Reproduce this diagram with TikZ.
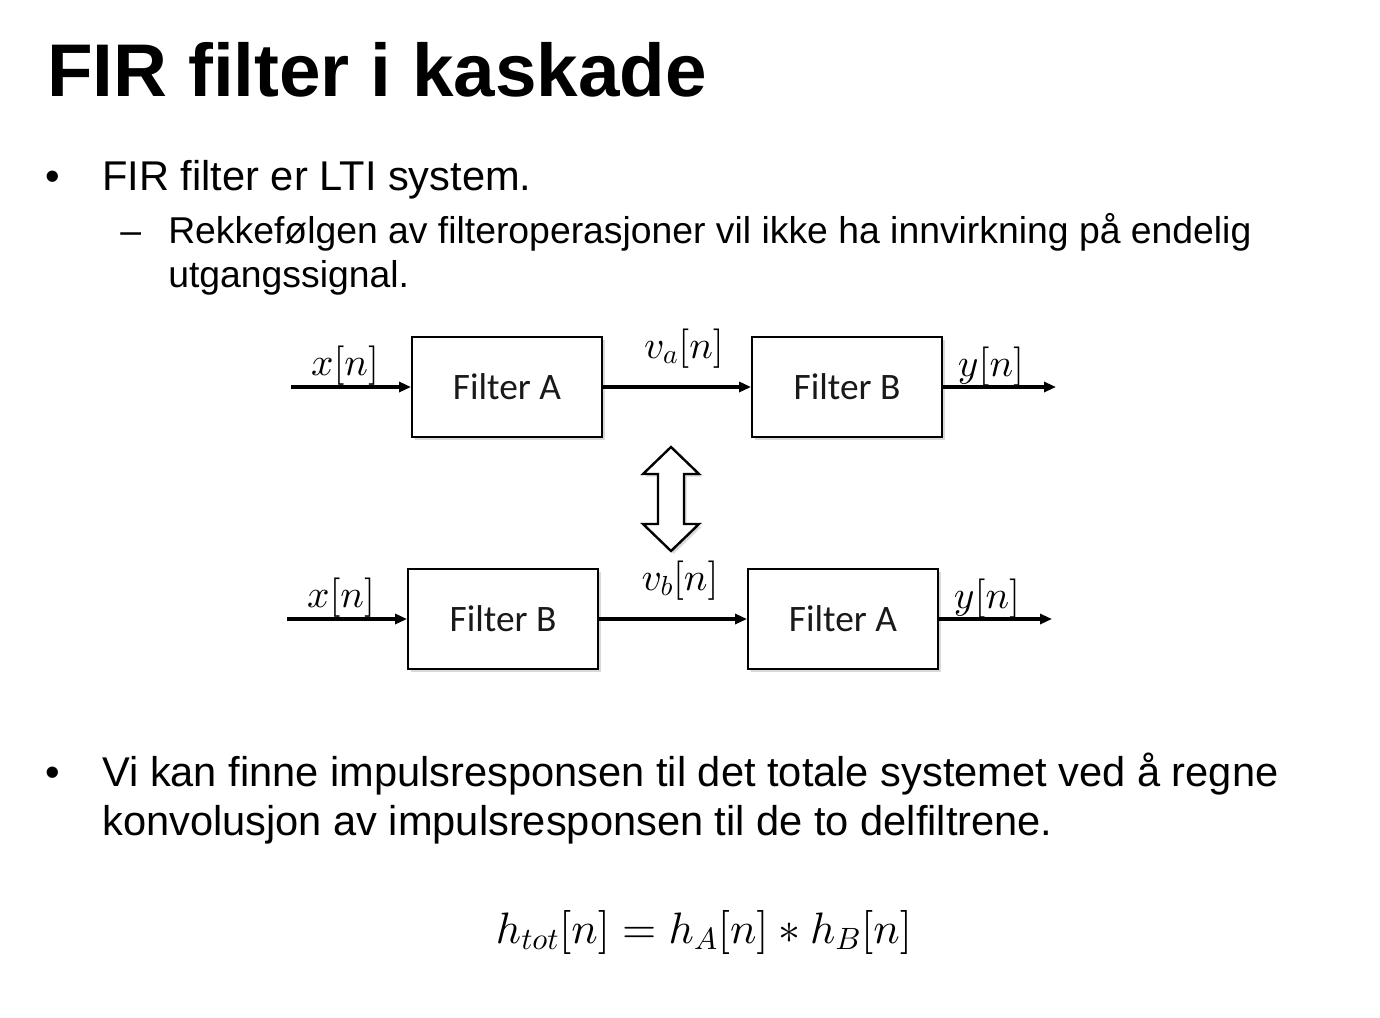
\documentclass[tikz,border=0pt]{standalone}
\DeclareFontShape{OML}{cmm}{m}{it}{<->cmmi10}{}
\DeclareFontShape{OT1}{cmr}{m}{n}{<->cmr10}{}
\DeclareFontShape{OMS}{cmsy}{m}{n}{<->cmsy10}{}
\DeclareFontShape{OMX}{cmex}{m}{n}{<->cmex10}{}
\usepackage{fontspec}
\setmainfont{Liberation Sans}
\newfontfamily\calib{Carlito}
\usetikzlibrary{arrows.meta,shadows}
\begin{document}
\begin{tikzpicture}[x=0.75pt,y=-0.75pt,
 txt/.style={anchor=base west,inner sep=0pt},
 blk/.style={draw=black,line width=1.4pt,fill=white,minimum width=142.5pt,minimum height=75pt,inner sep=0pt,text=black!90,font=\calib\fontsize{28}{30}\selectfont,drop shadow={shadow xshift=2pt,shadow yshift=-2pt,opacity=0.3}},
 sig/.style={line width=2.3pt,-{Triangle[length=9pt,width=7.5pt]}},
 lbl/.style={anchor=base,inner sep=0pt,font=\fontsize{29.5}{32}\selectfont},
 bul/.style={anchor=base west,inner sep=0pt,font=\fontsize{31.2}{36}\selectfont},
 sub/.style={anchor=base west,inner sep=0pt,font=\fontsize{28}{32}\selectfont}]
\useasboundingbox (0,0) rectangle (1380,1017);
% title
\node[txt,font=\fontsize{56}{60}\selectfont\bfseries] (title) at (47,96) {FIR filter i kaskade};
% bullets
\node[bul] (b1) at (45,190) {•};
\node[bul] (t1) at (102,190) {FIR filter er LTI system.};
\node[sub] (d1) at (120,243) {–};
\node[sub] (t2) at (168,243) {Rekkefølgen av filteroperasjoner vil ikke ha innvirkning på endelig};
\node[sub] (t3) at (168,287) {utgangssignal.};
\node[bul] (b2) at (45,786) {•};
\node[bul] (t4) at (102,786) {Vi kan finne impulsresponsen til det totale systemet ved å regne};
\node[bul] (t5) at (102,835) {konvolusjon av impulsresponsen til de to delfiltrene.};
% top chain
\node[blk] (A1) at (507,387) {Filter A};
\node[blk] (B1) at (847,387) {Filter B};
\coordinate (xin1) at (291,387);
\coordinate (yout1) at (1056,387);
\draw[sig] (xin1) -- (A1.west);
\draw[sig] (A1.east) -- (B1.west);
\draw[sig] (B1.east) -- (yout1);
\node[lbl] (lx1) at (345,375) {$x[n]$};
\node[lbl] (lv1) at (684,358) {$v_a[n]$};
\node[lbl] (ly1) at (991,376) {$y[n]$};
% bottom chain
\node[blk] (B2) at (503,619) {Filter B};
\node[blk] (A2) at (843,619) {Filter A};
\coordinate (xin2) at (287,619);
\coordinate (yout2) at (1052,619);
\draw[sig] (xin2) -- (B2.west);
\draw[sig] (B2.east) -- (A2.west);
\draw[sig] (A2.east) -- (yout2);
\node[lbl] (lx2) at (341,607) {$x[n]$};
\node[lbl] (lv2) at (680,590) {$v_b[n]$};
\node[lbl] (ly2) at (987,608) {$y[n]$};
% double arrow
\draw[line width=1.8pt,fill=white,line join=miter,drop shadow={shadow xshift=2pt,shadow yshift=-2pt,opacity=0.3}]
 (671,447) -- (699,474) -- (684,474) -- (684,524) -- (699,524) -- (671,551) -- (643,524) -- (658,524) -- (658,474) -- (643,474) -- cycle;
% formula
\node[anchor=base,inner sep=0pt,font=\fontsize{33}{38}\selectfont] (eq) at (704,943) {$h_{tot}[n]=h_A[n]\ast h_B[n]$};
\end{tikzpicture}
\end{document}
